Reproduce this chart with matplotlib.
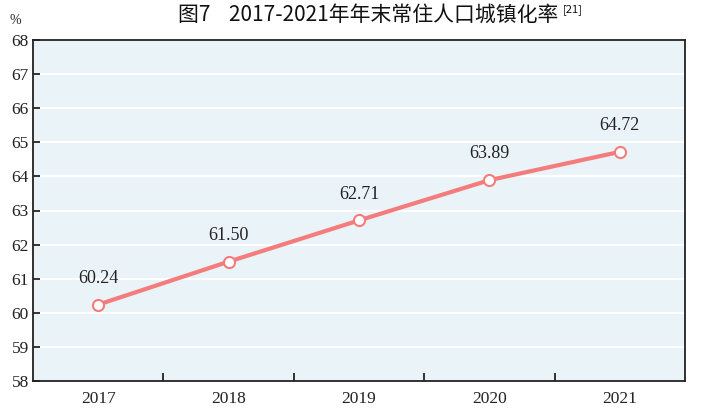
import matplotlib
matplotlib.use("Agg")
import matplotlib.pyplot as plt

years = ["2017", "2018", "2019", "2020", "2021"]
rates = [60.24, 61.50, 62.71, 63.89, 64.72]
yticks = list(range(58, 69))

fig = plt.figure(figsize=(7.07, 4.08), dpi=100)
ax = fig.add_axes([33/707, 1-381/408, (685-33)/707, (381-40)/408])
ax.set_facecolor("#EAF4F8")
x = list(range(len(years)))
ax.set_xlim(-0.5, len(years)-0.5)
ax.set_ylim(58, 68)
ax.set_yticks(yticks)
ax.set_yticklabels([str(t) for t in yticks], family="Liberation Serif", fontsize=12.5, color="#222222")
ax.set_xticks(x)
ax.set_xticklabels(years, family="Liberation Serif", fontsize=12.5, color="#222222")
ax.tick_params(axis="x", length=0, pad=7)
ax.set_xticks([i+0.5 for i in range(len(years)-1)], minor=True)
ax.tick_params(axis="x", which="minor", direction="in", length=6, width=1.2, color="#111111")
ax.tick_params(axis="y", direction="in", length=5, width=1.2, color="#111111", pad=3)
for t in yticks:
    ax.axhline(t, color="white", lw=1.5, zorder=1)
for s in ax.spines.values():
    s.set_color("#222222")
    s.set_linewidth(1.3)
ax.plot(x, rates, color="#F47C7C", lw=3, marker="o", ms=8, mfc="white",
        mec="#F47C7C", mew=1.5, zorder=3)
for xi, v in zip(x, rates):
    ax.annotate(f"{v:.2f}", (xi, v), xytext=(0, 19), textcoords="offset points",
                ha="center", va="center", family="Liberation Serif", fontsize=13, color="#222222")
fig.text(15/707, 1-20/408, "%", family="Liberation Serif", fontsize=10, ha="center", va="center", color="#222222")
fig.text(178/707, 1-15/408, "图7    2017-2021年年末常住人口城镇化率", family=["Noto Sans CJK SC", "DejaVu Sans"],
         fontsize=15, fontweight="medium", ha="left", va="center", color="#111111")
fig.text(563/707, 1-10/408, "[21]", family=["Noto Sans CJK SC", "DejaVu Sans"], fontsize=8,
         ha="left", va="center", color="#111111")
fig.savefig("out.png", dpi=100)
